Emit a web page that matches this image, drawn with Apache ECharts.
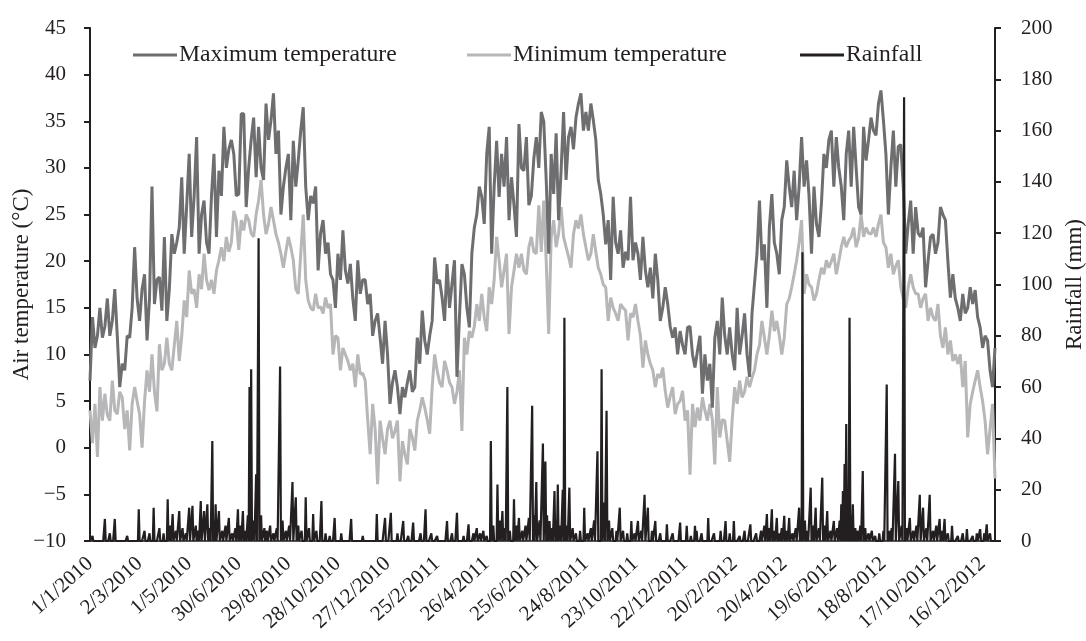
<!DOCTYPE html>
<html>
<head>
<meta charset="utf-8">
<script src="https://cdn.jsdelivr.net/npm/echarts@6/dist/echarts.min.js"></script>
<style>html,body{margin:0;padding:0;background:#fff}#c{width:1086px;height:641px}</style>
</head>
<body>
<div id="c"></div>
<script>
// ---- data ----
const tickLabels = ['1/1/2010','2/3/2010','1/5/2010','30/6/2010','29/8/2010','28/10/2010','27/12/2010',
  '25/2/2011','26/4/2011','25/6/2011','24/8/2011','23/10/2011','22/12/2011','20/2/2012','20/4/2012',
  '19/6/2012','18/8/2012','17/10/2012','16/12/2012'];
const tickSpacingDays = 60;     // one date label every 60 days
const totalDays = 1096;         // 1/1/2010 .. 31/12/2012
const tempSampleDays = 3;       // temperature read every 3rd day

// Maximum temperature (°C), every 3rd day from 1/1/2010
const tmax = [
  7.2,14,10.7,12,15,11.8,13,16,12,13.6,
  17,12,6.5,9,8.3,12,11.8,15,21.5,16,
  13.6,17,18.6,11.5,16,28,15.4,18,18.3,14.7,
  22.6,13.6,17,22.9,20.8,22,23.6,29,20.8,26,
  31.5,22.6,27,33.3,20.8,25,26.5,22,20.8,27,
  31.5,22.6,29.7,27,34.4,30,32,33,31.5,27,
  27.2,35.8,35.8,25.8,30,33,35.4,29,34.4,30,
  28.7,36.9,33,35.1,38,31.5,34,25,28,30,
  31.5,24.4,32.9,28,30.8,34,36.5,28,24.4,27,
  26.2,28,19,23,24.4,20.8,22,18.6,18,15,
  20.8,18,23.3,19,17.6,19.7,16,13.6,20.1,16.5,
  18,18,15.4,16.5,12,13.6,14.4,11.8,9,13.6,
  10,4.7,7,8.3,6.5,3.6,6.5,5.4,7,8.3,
  6,6.5,11.8,9,14.7,11.5,10,12,13.6,20.4,
  17.6,18,16.1,13.6,19.7,15,17.6,20.1,7.6,14,
  19.7,18.6,15,12.9,20.8,23.6,25,28,26.9,24,
  31.5,34.4,20.8,28,32.9,26.9,31.5,28,33.3,24.4,
  29,26,22.6,34.7,30,29.7,33.3,26,27,31,
  33.3,30,36,35,28.7,20.8,31.5,27.2,33.7,24.4,
  29.7,36,28.7,33.3,34.4,32,35.4,36.9,38,34,
  36,34,36.9,35.1,33,28.7,27.2,25,21.8,24.4,
  18,26.9,22,20.8,23.3,19.3,21,20.1,26.9,20.1,
  22,20.8,18,22.6,19,17.2,19.3,16,20.8,18,
  13.6,15,17.2,15.4,13,11.8,12.9,10,12.5,11,
  10,12.9,13,10,8.6,10.4,12,5.8,10,7.2,
  9,4.3,11.8,13.6,10,16.1,12,10,12.9,10,
  8.3,15,10,12,14.4,10,7.6,14.4,17.6,20.8,
  26.5,20.1,21.8,15,23.6,27.2,22,20.8,18.6,24.4,
  25.8,30.8,28,25.8,29.7,24.4,28,33.3,28,30.8,
  27,20.8,28,24,22.6,26.2,31.5,30,33,34,
  28,33.3,30,28,24.4,31.5,34,28,34.4,30,
  25.8,25,34.4,30.8,33,35.4,34,33.5,36.9,38.3,
  35.1,31.5,25,30,34,28,32.3,32.5,28,20.8,
  24,26.5,20.8,25.8,23,22.6,23.6,17.2,20,22.6,
  22.9,20.8,22,25.8,25,24.4,20,16.1,18.6,16,
  15,13.6,16.5,14.4,15,17.2,15.4,16.9,14,12.9,
  10.7,12,11.5,8.3,6.5,10.7
];

// Minimum temperature (°C), every 3rd day from 1/1/2010
const tmin = [
  4,0.5,4.7,-1,6.5,2.9,5.8,3.5,2.9,7.2,
  4,3.6,6,5.4,2,4,-0.3,4.7,6.5,5,
  3.6,0,5,8.3,6,10,6,3.9,11.1,8.3,
  9,11.8,9,8.3,11,13.6,9.3,12,15.8,14,
  19,16.5,17,15,18.6,17,20.8,18,16.9,18,
  16.5,19,20.1,21.5,20,22.6,21,22,25.4,24.4,
  21.2,24.4,23.3,25,24.4,23,22.6,25,26.5,28.7,
  25,22.9,24,25.8,24.4,22.9,22,20.8,19.3,21,
  22.6,21.5,20.1,17,16.5,20.8,25,18,15.8,15,
  14.7,16.5,15,15.1,14.4,16.1,15,15.4,10,12,
  11.8,8.3,10.7,10,9.3,8.3,9,6.5,10,7.9,
  8,7.2,3,-0.7,4.7,2,-3.9,2.9,1,-0.7,
  2,2.9,1,1.8,2.9,-3.6,0.7,-0.7,-1.8,2,
  1.1,-0.3,2.9,4,5.4,4.3,3,1.5,6.5,10,
  8.3,7,6.5,9.3,8.3,7,6.5,4.7,6,8.3,
  1.8,11.8,10,12.5,11.8,13,15.4,13.6,16.5,14,
  12.5,17.2,15.4,18,22.6,20.1,17.2,19,20.8,12.2,
  17.2,19,20.8,19.3,20.8,19,18.6,21.5,22.6,21,
  20.8,26,21,26.5,20,12.2,22.6,24.4,21.5,23,
  25.8,22.6,21.5,20.5,19.3,22.9,24.4,23.5,25,22.9,
  21.5,20.1,20.8,22.9,21,19.3,18.6,17.5,17.2,13.6,
  16.1,15,14.4,13.6,15.4,15,14.7,11.5,14.4,14,
  15.4,13.6,12,8.6,11.5,10,9,8.3,6.5,7.9,
  7.5,8.6,6.1,4.3,5.5,6.5,3.6,4.7,5,6.1,
  2.9,4,-2.9,4.7,2.2,4.3,2.9,5.4,4,2.9,
  4.7,3,-1.8,6.5,1.1,3,2.9,0.7,-1.5,3,
  6.5,4.7,7.2,5.4,6,7.6,6.5,7.5,8.3,10,
  11,13.6,11.8,10,12,14.7,12.5,13.6,12,10,
  11.8,15.4,16,17.2,18.6,20.1,22,24.4,16.5,18.6,
  17.5,17.2,15.8,16.5,18,19.3,18.6,20.1,19.3,20,
  20.8,18.6,20,21.5,22.6,21.5,22.2,22.6,23.6,21.5,
  22.5,25,22.6,23.6,23,22.9,23.6,22.6,24,25,
  22,21.5,19.3,20.8,18.6,19.5,20.1,17.2,16,15,
  17.2,18.6,17.2,16.5,16.5,15,16,16.5,13.6,15,
  14,13.6,15.4,12,10.7,12.9,10,11.5,9.3,10,
  9,10,6.5,9.3,1.1,4.7,6,7.2,8.3,6.5,
  5,2.9,-0.7,2,4.7,-3.3
];

// Rainfall events: [day since 1/1/2010, mm]; all other days 0 mm
const rainEvents = [
  [3,2],[18,8.6],[24,3],[30,8.6],[45,2],[59,12.4],[66,4],[72,3],[77,13],[84,5],[89,3],[94,16.3],[97,6],
  [100,10.5],[104,4],[108,11.7],[112,5],[116,3],[120,13],[124,13.7],[128,6],[131,4],[134,15.6],[138,11.7],
  [142,14.3],[145,5],[148,39],[150,8],[152,14.3],[156,11.7],[160,4],[164,6],[168,9],[172,3],[176,5],
  [179,12.4],[182,6],[185,11.7],[188,4],[191,10],[193,60],[195,67],[198,8],[201,26],[204,118],[207,10],
  [211,5],[214,4],[218,6],[222,3],[226,5],[230,68],[233,8],[237,4],[241,6],[245,23],[249,17],[252,6],
  [256,4],[261,17],[265,5],[270,10.5],[274,4],[280,15.6],[285,3],[290,2],[296,9],[304,3],[316,8.6],
  [330,2],[347,10.5],[357,9],[364,11],
  [372,3],[379,7.8],[385,2],[391,7.2],[400,3],[406,12.4],[413,3],[420,2],[432,7.8],[438,3],[444,11],
  [452,2],[458,6.5],[464,3],[468,5],[472,3],[476,4],[480,2],[485,39],[488,6],[493,22],[496,8],
  [499,11.7],[502,5],[505,60],[508,4],[513,16.3],[516,6],[519,9],[523,4],[527,6],[531,9],[535,52.7],
  [537,10],[540,23],[544,8],[548,38],[551,31],[553,10],[556,7.8],[559,5],[562,19.5],[564,8],[566,22],
  [569,6],[572,20],[574,87],[577,6],[580,20.8],[584,5],[588,3],[593,4],[598,13],[602,3],[606,5],
  [610,8],[614,35],[619,67],[622,15],[625,50.8],[628,8],[632,5],[637,4],[641,13],[645,4],[650,3],
  [655,7.8],[659,3],[663,7.8],[667,4],[671,18],[675,13],[680,4],[684,7.8],[690,3],[698,6.5],[705,3],
  [714,7.2],[722,5.9],[727,2],[732,5.9],
  [734,4],[740,3],[748,9],[755,3],[763,4],[769,7.8],[774,3],[779,7.8],[786,2],[792,4],[799,6.5],
  [806,3],[812,4],[816,6],[819,10.5],[822,5],[825,12.4],[828,4],[831,9],[834,3],[837,5],[840,9.8],
  [843,4],[846,9],[850,3],[854,5],[858,13],[860,6],[862,112.6],[865,8],[868,4],[872,20.8],[875,6],
  [878,13],[882,5],[886,24.7],[889,6],[892,11.7],[896,4],[900,7.8],[904,5],[907,8],[909,14.3],
  [911,19.5],[913,30],[915,45.6],[917,20],[919,87],[921,10],[923,14.3],[926,5],[929,4],[932,6],
  [935,27.3],[938,5],[942,3],[946,4],[950,2],[955,3],[960,4],[964,61],[967,4],[970,5],[974,34],
  [978,23.4],[982,6],[985,173],[988,5],[992,9],[996,4],[1000,6],[1004,18],[1008,13],[1012,5],
  [1016,18],[1020,4],[1024,6],[1028,8.6],[1031,4],[1034,8.6],[1038,3],[1043,5.9],[1050,2],[1056,3],
  [1061,4.6],[1068,2],[1073,3],[1077,4.6],[1082,3],[1085,6.5],[1089,3]
];

// ---- build series ----
const maxData = tmax.map((v, i) => [i * tempSampleDays, v]);
const minData = tmin.map((v, i) => [i * tempSampleDays, v]);
const rainByDay = new Array(totalDays).fill(0);
rainEvents.forEach(([d, mm]) => { rainByDay[d] = mm; });
const rainData = rainByDay.map((v, d) => [d, v]);

const FONT = "'Liberation Serif','DejaVu Serif',serif";
const INK = '#231f20';
const C_MAX = '#6e6e70';
const C_MIN = '#b7b7b9';
const minus = v => String(v).replace('-', '\u2212');

const chart = echarts.init(document.getElementById('c'), null, {renderer: 'canvas'});
const legendBase = {
  top: 43, itemWidth: 44, itemHeight: 3, itemGap: 0, padding: 0, icon: 'rect', selectedMode: false,
  textStyle: {fontFamily: FONT, fontSize: 23.7, color: INK, padding: [0, 0, 0, -3]}
};
chart.setOption({
  animation: false,
  backgroundColor: '#fff',
  textStyle: {fontFamily: FONT},
  grid: {left: 90, right: 91, top: 28, bottom: 100, containLabel: false, outerBoundsMode: 'none'},
  legend: [
    Object.assign({data: ['Maximum temperature'], left: 133}, legendBase),
    Object.assign({data: ['Minimum temperature'], left: 467}, legendBase),
    Object.assign({data: ['Rainfall'], left: 800}, legendBase)
  ],
  xAxis: {
    type: 'value', min: 0, max: totalDays - 1, interval: tickSpacingDays,
    axisLine: {show: true, onZero: false, lineStyle: {color: INK, width: 1.5}},
    axisTick: {show: false},
    splitLine: {show: false},
    axisLabel: {
      rotate: 42, margin: 20, fontSize: 21, color: INK, fontFamily: FONT,
      formatter: v => (v % tickSpacingDays === 0 ? (tickLabels[v / tickSpacingDays] || '') : '')
    }
  },
  yAxis: [
    {
      type: 'value', min: -10, max: 45, interval: 5, position: 'left',
      axisLine: {show: true, lineStyle: {color: INK, width: 2}},
      axisTick: {show: true, length: 6, lineStyle: {color: INK, width: 2}},
      splitLine: {show: false},
      axisLabel: {fontSize: 21, margin: 24, color: INK, fontFamily: FONT, formatter: minus},
      name: 'Air temperature (°C)', nameLocation: 'middle', nameRotate: 90, nameGap: 57,
      nameMoveOverlap: false,
      nameTextStyle: {fontSize: 23, color: INK, fontFamily: FONT}
    },
    {
      type: 'value', min: 0, max: 200, interval: 20, position: 'right',
      axisLine: {show: true, lineStyle: {color: INK, width: 2}},
      axisTick: {show: true, length: 6, lineStyle: {color: INK, width: 2}},
      splitLine: {show: false},
      axisLabel: {fontSize: 21, margin: 26, color: INK, fontFamily: FONT},
      name: 'Rainfall (mm)', nameLocation: 'middle', nameRotate: 90, nameGap: 68,
      nameMoveOverlap: false,
      nameTextStyle: {fontSize: 23, color: INK, fontFamily: FONT}
    }
  ],
  series: [
    {name: 'Minimum temperature', type: 'line', yAxisIndex: 0, data: minData, symbol: 'none',
     lineStyle: {color: C_MIN, width: 3}, itemStyle: {color: C_MIN}, z: 2},
    {name: 'Maximum temperature', type: 'line', yAxisIndex: 0, data: maxData, symbol: 'none',
     lineStyle: {color: C_MAX, width: 3}, itemStyle: {color: C_MAX}, z: 3},
    {name: 'Rainfall', type: 'line', yAxisIndex: 1, data: rainData, symbol: 'none',
     lineStyle: {color: INK, width: 2.2}, itemStyle: {color: INK}, z: 4}
  ]
});
</script>
</body>
</html>
